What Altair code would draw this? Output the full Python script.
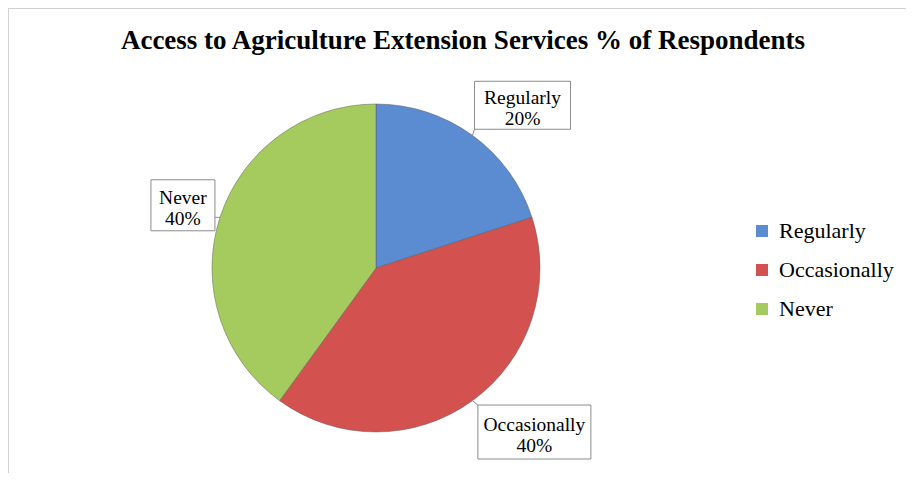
import altair as alt
import pandas as pd
import numpy as np

# ---- data ----
categories = ["Regularly", "Occasionally", "Never"]
percents = [20, 40, 40]
title_text = "Access to Agriculture Extension Services % of Respondents"

# ---- style / layout ----
colors = ["#5b8bd0", "#d3524f", "#a5cb5f"]
W, H = 898, 465
CX, CY = 368, 260
R = 164
# callout style: (angle nudge deg, distance from centre px, box width, box height)
LABEL_STYLE = {
    "Regularly": (6, 219, 96, 48),
    "Occasionally": (-8, 228, 113, 54),
    "Never": (0, 203, 64, 51),
}
SERIF = "Liberation Serif"

df = pd.DataFrame({"category": categories, "percent": percents, "idx": range(len(categories))})
total = df["percent"].sum()
start = df["percent"].cumsum() - df["percent"]
df["mid"] = (start + df["percent"] / 2) / total * 360.0
df["label"] = [f"{c}\n{p}%" for c, p in zip(categories, percents)]

lx, ly, x0, x1, y0, y1, tx, ty, ex, ey = ([] for _ in range(10))
for c, m in zip(df["category"], df["mid"]):
    nudge, dist, bw, bh = LABEL_STYLE[c]
    a = np.radians(m + nudge)
    cxl = CX + dist * np.sin(a)
    cyl = CY - dist * np.cos(a)
    lx.append(cxl); ly.append(cyl)
    x0.append(cxl - bw / 2); x1.append(cxl + bw / 2)
    y0.append(cyl - bh / 2); y1.append(cyl + bh / 2)
    am = np.radians(m)
    rx = CX + R * np.sin(am)
    ry = CY - R * np.cos(am)
    tx.append(rx); ty.append(ry)
    ex.append(float(np.clip(rx, cxl - bw / 2, cxl + bw / 2)))
    ey.append(float(np.clip(ry, cyl - bh / 2, cyl + bh / 2)))
df["lx"], df["ly"] = lx, ly
df["x0"], df["x1"], df["y0"], df["y1"] = x0, x1, y0, y1
df["tx"], df["ty"], df["ex"], df["ey"] = tx, ty, ex, ey

xs = alt.Scale(domain=[0, W], range=[0, W])
ys = alt.Scale(domain=[0, H], range=[0, H])

color = alt.Color(
    "category:N",
    scale=alt.Scale(domain=categories, range=colors),
    sort=categories,
    legend=alt.Legend(
        title=None, orient="none", legendX=743, legendY=212,
        symbolType="square", symbolSize=144, symbolStrokeWidth=0,
        labelFont=SERIF, labelFontSize=22, labelColor="#000000",
        labelOffset=6, rowPadding=17, padding=0,
    ),
)

pie = alt.Chart(df).mark_arc(
    outerRadius=R, stroke="#5a5a5a", strokeWidth=0.8, strokeOpacity=0.6
).encode(
    theta=alt.Theta("percent:Q", stack=True),
    color=color,
    order=alt.Order("idx:Q"),
    x=alt.value(CX), y=alt.value(CY),
)

tails = alt.Chart(df).mark_rule(color="#8c8c8c", strokeWidth=1).encode(
    x=alt.X("tx:Q", scale=xs, axis=None), y=alt.Y("ty:Q", scale=ys, axis=None),
    x2="ex:Q", y2="ey:Q",
)

boxes = alt.Chart(df).mark_rect(fill="white", stroke="#8c8c8c", strokeWidth=1).encode(
    x=alt.X("x0:Q", scale=xs, axis=None), x2="x1:Q",
    y=alt.Y("y0:Q", scale=ys, axis=None), y2="y1:Q",
)

labels = alt.Chart(df).mark_text(
    font=SERIF, fontSize=19.5, color="#000000", lineBreak="\n", lineHeight=21,
    align="center", baseline="middle", dy=-7,
).encode(
    x=alt.X("lx:Q", scale=xs, axis=None), y=alt.Y("ly:Q", scale=ys, axis=None),
    text="label:N",
)

title = alt.Chart(pd.DataFrame({"t": [title_text]})).mark_text(
    font=SERIF, fontSize=27, fontWeight="bold", color="#000000",
    align="center", baseline="alphabetic",
).encode(text="t:N", x=alt.value(455), y=alt.value(41))

border = alt.Chart(pd.DataFrame({"a": [0]})).mark_rule(color="#d0d0d0", strokeWidth=2).encode(
    x=alt.value(0), y=alt.value(0), y2=alt.value(H)
)
border_top = alt.Chart(pd.DataFrame({"a": [0]})).mark_rule(color="#d0d0d0", strokeWidth=2).encode(
    x=alt.value(0), x2=alt.value(W), y=alt.value(0)
)

chart = alt.layer(border, border_top, pie, tails, boxes, labels, title).properties(
    width=W, height=H, padding=0, autosize=alt.AutoSizeParams(type="none"),
).configure_view(stroke=None).resolve_scale(x="shared", y="shared")

chart.save("out.html", embed_options={"renderer": "svg", "actions": False})
